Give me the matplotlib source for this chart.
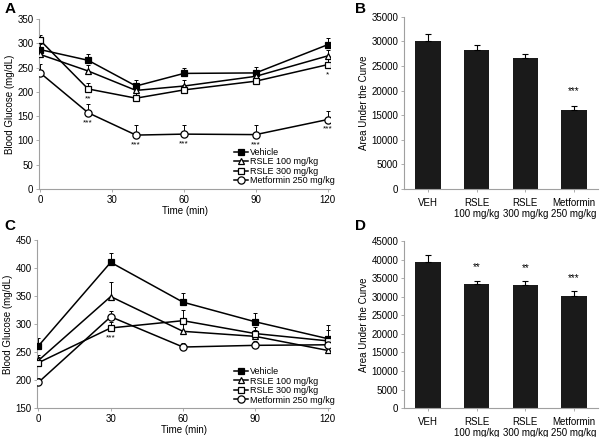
import matplotlib
matplotlib.use("Agg")
import matplotlib.pyplot as plt
import numpy as np

# Panel A (time course, 0-120 min)
time_a = [0, 20, 40, 60, 90, 120]
veh_a = [287, 265, 212, 238, 239, 297]
veh_a_err = [12, 13, 12, 12, 13, 13]
r100_a = [277, 243, 203, 212, 232, 274]
r100_a_err = [10, 12, 12, 13, 12, 12]
r300_a = [306, 206, 187, 204, 222, 256]
r300_a_err = [12, 12, 10, 10, 10, 12]
met_a = [239, 157, 111, 113, 112, 143]
met_a_err = [18, 19, 20, 19, 19, 17]
stars_a = [(20, 'r300', '**'), (20, 'met', '***'), (40, 'met', '***'), (60, 'met', '***'),
           (90, 'met', '***'), (120, 'met', '***'), (120, 'r300', '*')]

# Panel B (AUC)
cats = ['VEH', 'RSLE\n100 mg/kg', 'RSLE\n300 mg/kg', 'Metformin\n250 mg/kg']
auc_b = [30100, 28350, 26600, 16100]
auc_b_err = [1500, 1000, 900, 850]
stars_b = ['', '', '', '***']

# Panel C (time course, 0-120 min)
time_c = [0, 30, 60, 90, 120]
veh_c = [261, 410, 339, 304, 274]
veh_c_err = [14, 16, 16, 16, 24]
r100_c = [235, 349, 287, 278, 253]
r100_c_err = [10, 26, 14, 12, 12]
r300_c = [231, 293, 306, 283, 270]
r300_c_err = [10, 10, 19, 12, 20]
met_c = [196, 313, 259, 262, 263]
met_c_err = [8, 10, 8, 8, 8]
stars_c = [(30, 'r300', '***')]

# Panel D (AUC)
auc_d = [39300, 33450, 33050, 30250]
auc_d_err = [1800, 900, 1100, 1200]
stars_d = ['', '**', '**', '***']

labels = ['Vehicle', 'RSLE 100 mg/kg', 'RSLE 300 mg/kg', 'Metformin 250 mg/kg']
markers = ['s', '^', 's', 'o']
fills = ['black', 'white', 'white', 'white']
sizes = [4.2, 4.2, 5, 5.2]

plt.rcParams['font.family'] = ['Liberation Sans', 'DejaVu Sans']
fig = plt.figure(figsize=(6, 4.37), dpi=100)

spine_col = '#a0a0a0'

def style(ax):
    for s in ['top', 'right']:
        ax.spines[s].set_visible(False)
    for s in ['left', 'bottom']:
        ax.spines[s].set_color(spine_col)
        ax.spines[s].set_linewidth(0.8)
    ax.tick_params(axis='both', labelsize=7, colors='black', length=2.5, width=0.6,
                   direction='out', pad=1.5)
    ax.tick_params(axis='both', color=spine_col)

def line_panel(ax, t, series, errs, ylim, yticks, xticks, stars, star_off):
    keys = ['veh', 'r100', 'r300', 'met']
    handles = []
    for i, (y, e) in enumerate(zip(series, errs)):
        ax.errorbar(t, y, yerr=[np.zeros(len(e)), e], fmt='none', ecolor='black',
                    elinewidth=0.7, capsize=1.6, capthick=0.7, zorder=2)
        h, = ax.plot(t, y, color='black', lw=1.1, marker=markers[i], ms=sizes[i],
                     mfc=fills[i], mec='black', mew=0.9, label=labels[i], zorder=3)
        handles.append(h)
    d = dict(zip(keys, series))
    for (x, k, s) in stars:
        idx = list(t).index(x)
        ax.text(x, d[k][idx] - star_off, s, ha='center', va='top', fontsize=6)
    ax.set_ylim(*ylim)
    ax.set_yticks(yticks)
    ax.set_xlim(-0.5, 121)
    ax.set_xticks(xticks)
    ax.set_ylabel('Blood Glucose (mg/dL)', fontsize=7, labelpad=2)
    ax.set_xlabel('Time (min)', fontsize=7, labelpad=1)
    ax.legend(handles=handles, loc='lower right', fontsize=6.5, frameon=False,
              handlelength=1.6, handletextpad=0.2, labelspacing=0.05,
              borderaxespad=0.0, bbox_to_anchor=(1.03, 0.0))
    style(ax)

def bar_panel(ax, vals, errs, stars, ylim, yticks, star_off):
    x = np.arange(len(vals))
    ax.bar(x, vals, width=0.52, color='#1a1a1a', zorder=2)
    ax.errorbar(x, vals, yerr=[np.zeros(len(errs)), errs], fmt='none', ecolor='black',
                elinewidth=0.8, capsize=2.5, capthick=0.8, zorder=3)
    for xi, v, e, s in zip(x, vals, errs, stars):
        if s:
            ax.text(xi, v + e + star_off, s, ha='center', va='bottom', fontsize=7)
    ax.set_xlim(-0.5, 3.5)
    ax.set_ylim(*ylim)
    ax.set_yticks(yticks)
    ax.set_xticks(x)
    ax.set_xticklabels(cats, fontsize=7, linespacing=1.15)
    ax.set_ylabel('Area Under the Curve', fontsize=7, labelpad=2)
    style(ax)
    ax.tick_params(axis='x', pad=4)

axA = fig.add_axes([0.065, 0.5675, 0.485, 0.389])
line_panel(axA, time_a, [veh_a, r100_a, r300_a, met_a],
           [veh_a_err, r100_a_err, r300_a_err, met_a_err],
           (0, 350), range(0, 351, 50), [0, 30, 60, 90, 120], stars_a, 13)

axB = fig.add_axes([0.673, 0.5675, 0.324, 0.394])
bar_panel(axB, auc_b, auc_b_err, stars_b, (0, 35000), range(0, 35001, 5000), 2000)

axC = fig.add_axes([0.062, 0.066, 0.488, 0.385])
line_panel(axC, time_c, [veh_c, r100_c, r300_c, met_c],
           [veh_c_err, r100_c_err, r300_c_err, met_c_err],
           (150, 450), range(150, 451, 50), [0, 30, 60, 90, 120], stars_c, 12)

axD = fig.add_axes([0.673, 0.066, 0.324, 0.3825])
bar_panel(axD, auc_d, auc_d_err, stars_d, (0, 45000), range(0, 45001, 5000), 2200)

for lab, (xp, yp) in zip('ABCD', [(0.008, 0.995), (0.592, 0.995), (0.008, 0.5), (0.592, 0.5)]):
    fig.text(xp, yp, lab, fontsize=11, fontweight='bold', ha='left', va='top')

fig.savefig('out.png', dpi=100)
